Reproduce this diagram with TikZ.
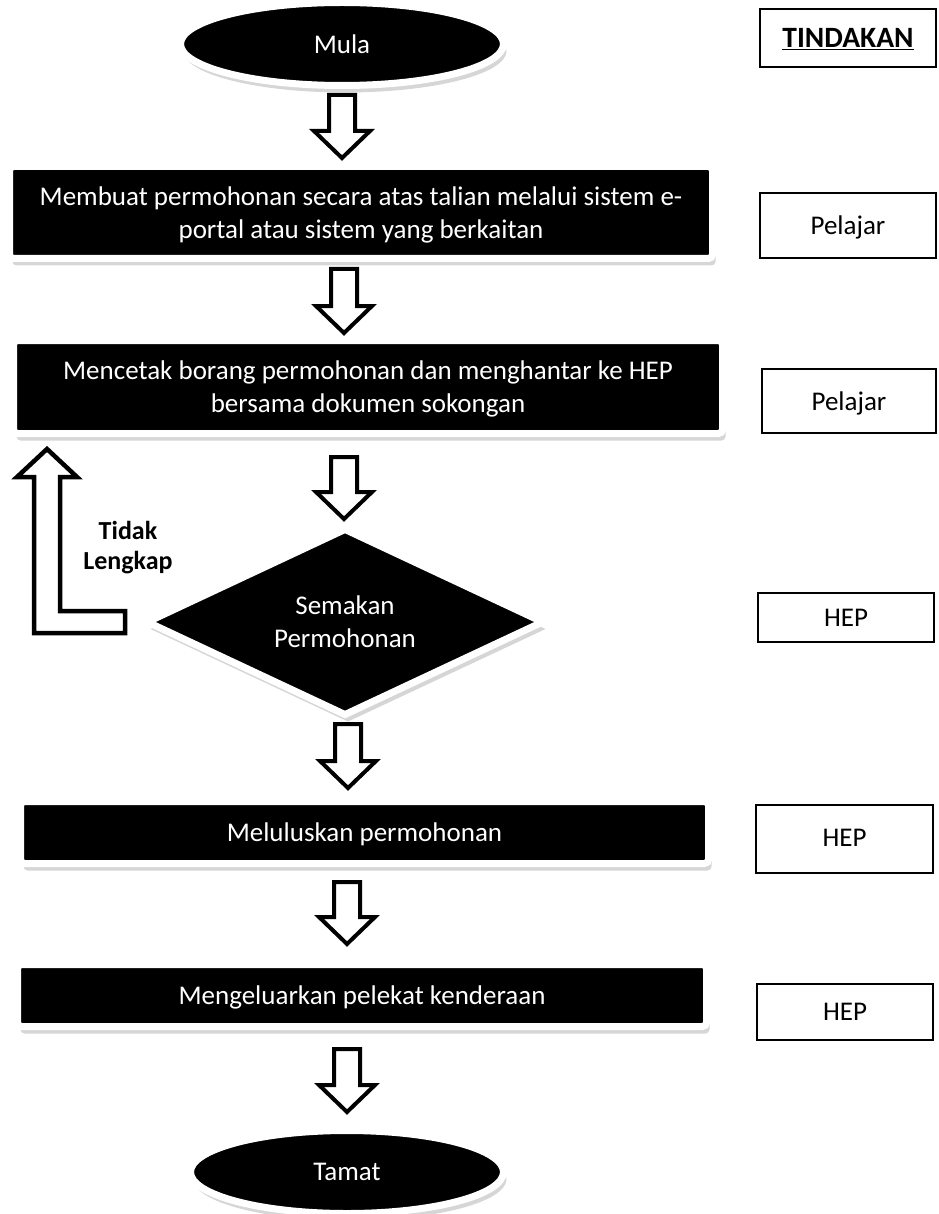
\documentclass[tikz,border=0pt]{standalone}
\usepackage{fontspec}
\setmainfont{Carlito}
\usetikzlibrary{shapes.geometric,shadows}
\tikzset{
  shad/.style={drop shadow={shadow xshift=3pt, shadow yshift=-7pt, opacity=0.16, fill=black}},
  blk/.style={rectangle, fill=black, draw=white, line width=7pt, rounded corners=4pt,
    text=white, font=\fontsize{27}{33}\selectfont, align=center, inner sep=0pt,
    text depth=-3pt, shad},
  term/.style={ellipse, fill=black, draw=white, line width=7pt, text=white,
    font=\fontsize{27}{33}\selectfont, inner sep=0pt, text depth=-1pt, shad},
  decide/.style={diamond, shape aspect=2.1, fill=black, draw=white, line width=7pt, text=white,
    font=\fontsize{27}{33}\selectfont, align=center, inner sep=0pt, text depth=-1pt, shad},
  who/.style={rectangle, draw=black, line width=1.6pt, fill=white,
    font=\fontsize{27}{33}\selectfont, inner sep=0pt, text depth=-3pt},
  barrow/.style={draw=black, line width=4pt, fill=white, line join=miter},
  lbl/.style={font=\fontsize{26}{30}\selectfont\bfseries, align=center, inner sep=0pt},
}
\newcommand\blockdown[3]{% x, ytop, ytip
  \draw[barrow] (#1-13,#2) -- (#1+13,#2) -- (#1+13,#3-27) -- (#1+28,#3-27) -- (#1,#3)
    -- (#1-28,#3-27) -- (#1-13,#3-27) -- cycle;}
\begin{document}
\begin{tikzpicture}[x=1pt,y=-1pt]
\useasboundingbox (0,0) rectangle (938,1214);
\fill[white] (0,0) rectangle (938,1214);

% flow nodes
\node[term, minimum width=323pt, minimum height=83pt] (mula) at (342,44) {Mula};
\node[blk, minimum width=703pt, minimum height=92pt] (b1) at (361,212.5)
  {Membuat permohonan secara atas talian melalui sistem e-\\portal atau sistem yang berkaitan};
\node[blk, minimum width=709pt, minimum height=93pt] (b2) at (368,387)
  {Mencetak borang permohonan dan menghantar ke HEP\\bersama dokumen sokongan};
\node[decide, minimum width=398pt, minimum height=188pt] (sem) at (345,622)
  {Semakan\\Permohonan};
\node[blk, minimum width=688pt, minimum height=62pt] (b3) at (364.5,832.5)
  {Meluluskan permohonan};
\node[blk, minimum width=689pt, minimum height=62pt] (b4) at (362,995.5)
  {Mengeluarkan pelekat kenderaan};
\node[term, minimum width=313pt, minimum height=83pt] (tamat) at (347,1172) {Tamat};

% actor boxes
\node[who, minimum width=176pt, minimum height=58pt, font=\fontsize{29.5}{33}\selectfont] (t0) at (848,38)
  {\underline{\textbf{TINDAKAN}}};
\node[who, minimum width=176pt, minimum height=65pt] (p1) at (848,225.5) {Pelajar};
\node[who, minimum width=174pt, minimum height=64pt] (p2) at (849,401) {Pelajar};
\node[who, minimum width=176pt, minimum height=49pt, text depth=-12pt] (h1) at (846,617.5) {HEP};
\node[who, minimum width=177pt, minimum height=68pt, text depth=3pt] (h2) at (844.5,839) {HEP};
\node[who, minimum width=176pt, minimum height=56pt] (h3) at (845,1012) {HEP};

% block arrows
\blockdown{342}{95}{158}
\blockdown{344}{269}{333}
\blockdown{344}{457}{519}
\blockdown{348}{724}{788}
\blockdown{347}{882}{944}
\blockdown{347}{1049}{1112}

% return arrow
\draw[barrow, line width=4.5pt] (47,449) -- (77,477) -- (60,477) -- (60,611) -- (125,611)
  -- (125,633) -- (34,633) -- (34,477) -- (17,477) -- cycle;
\node[lbl] (tl) at (128,548) {Tidak\\Lengkap};
\end{tikzpicture}
\end{document}
